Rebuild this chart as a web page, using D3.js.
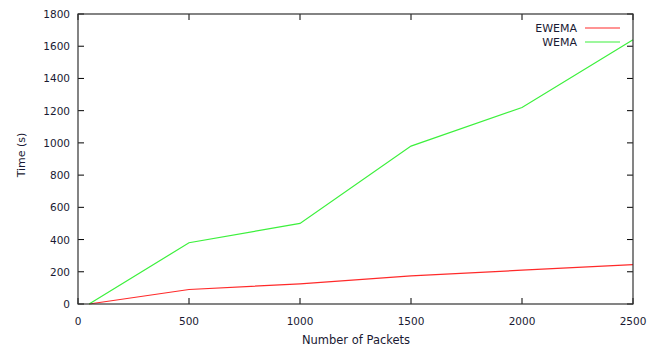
<!DOCTYPE html>
<html><head><meta charset="utf-8">
<script src="https://cdn.jsdelivr.net/npm/d3@7"></script>
<style>body{margin:0;background:#fff;}text{font-family:"DejaVu Sans",Verdana,sans-serif;}</style>
</head><body><svg id="c" width="661" height="349"></svg>
<script>
const packets = [50, 500, 1000, 1500, 2000, 2500];
const ewema = [0, 90, 125, 175, 210, 245];
const wema = [0, 380, 500, 980, 1220, 1640];
const xTicks = [0, 500, 1000, 1500, 2000, 2500];
const yTicks = [0, 200, 400, 600, 800, 1000, 1200, 1400, 1600, 1800];
const seriesNames = ["EWEMA", "WEMA"];
const colors = ["#ff2a2a", "#3cf03c"];

const svg = d3.select("#c");
const L = 78, R = 633, T = 14, B = 304;
const x = d3.scaleLinear().domain([0, 2500]).range([L, R]);
const y = d3.scaleLinear().domain([0, 1800]).range([B, T]);
const textColor = "#1a1a33";
const fs = "10.5px";

// ticks (inward, mirrored)
const tk = 6;
const g = svg.append("g").attr("stroke", "#000").attr("stroke-width", 1);
yTicks.forEach(v => {
  g.append("line").attr("x1", L).attr("x2", L + tk).attr("y1", y(v)).attr("y2", y(v));
  g.append("line").attr("x1", R).attr("x2", R - tk).attr("y1", y(v)).attr("y2", y(v));
});
xTicks.forEach(v => {
  g.append("line").attr("x1", x(v)).attr("x2", x(v)).attr("y1", B).attr("y2", B - tk);
  g.append("line").attr("x1", x(v)).attr("x2", x(v)).attr("y1", T).attr("y2", T + tk);
});

// tick labels
yTicks.forEach(v => {
  svg.append("text").attr("x", L - 8).attr("y", y(v) + 4).attr("text-anchor", "end")
    .attr("font-size", fs).attr("fill", textColor).text(v);
});
xTicks.forEach(v => {
  svg.append("text").attr("x", x(v)).attr("y", B + 21).attr("text-anchor", "middle")
    .attr("font-size", fs).attr("fill", textColor).text(v);
});

// lines
const data = [ewema, wema];
const line = d3.line().x((d, i) => x(packets[i])).y(d => y(d));
data.forEach((s, k) => {
  svg.append("path").datum(s).attr("d", line).attr("fill", "none")
    .attr("stroke", colors[k]).attr("stroke-width", 1.2);
});

// frame
svg.append("rect").attr("x", L).attr("y", T).attr("width", R - L).attr("height", B - T)
  .attr("fill", "none").attr("stroke", "#333").attr("stroke-width", 1.2);

// legend
seriesNames.forEach((n, k) => {
  const yy = 28 + k * 14;
  svg.append("text").attr("x", 577).attr("y", yy + 4).attr("text-anchor", "end")
    .attr("font-size", "11px").attr("fill", textColor).text(n);
  svg.append("line").attr("x1", 585).attr("x2", 620).attr("y1", yy).attr("y2", yy)
    .attr("stroke", colors[k]).attr("stroke-width", 1.2);
});

// axis titles
svg.append("text").attr("x", 356).attr("y", 344).attr("text-anchor", "middle")
  .attr("font-size", "11.5px").attr("fill", textColor).text("Number of Packets");
svg.append("text").attr("transform", "translate(25,155) rotate(-90)").attr("text-anchor", "middle")
  .attr("font-size", "11px").attr("fill", textColor).text("Time (s)");
</script></body></html>
